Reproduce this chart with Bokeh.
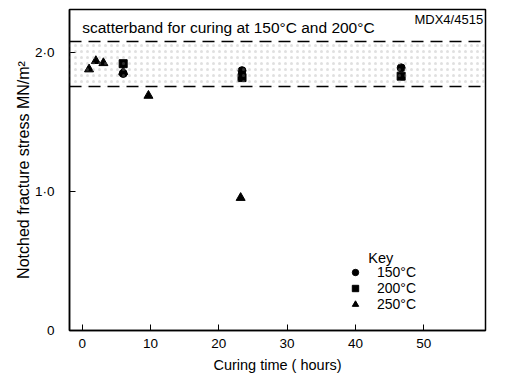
from bokeh.plotting import figure
from bokeh.models import (Range1d, FixedTicker, Label, Span, BoxAnnotation,
                          Legend, LegendItem)
from bokeh.embed import file_html
from bokeh.resources import INLINE

# ---- data ----
t150 = [6.0, 23.4, 46.7]
s150 = [1.85, 1.87, 1.89]
t200 = [6.0, 23.4, 46.7]
s200 = [1.92, 1.82, 1.83]
t250 = [1.0, 2.0, 3.1, 6.0, 9.7, 23.2]
s250 = [1.88, 1.94, 1.925, 1.86, 1.69, 0.955]
band = [1.755, 2.08]          # scatterband limits (150 and 200 degC)
x_ticks = [0, 10, 20, 30, 40, 50]
y_ticks = [0, 1, 2]
y_tick_labels = {0: "0", 1: "1·0", 2: "2·0"}
series_labels = ["150°C", "200°C", "250°C"]

FONT = "Liberation Sans"

p = figure(width=508, height=378, output_backend="svg", toolbar_location=None,
           x_range=Range1d(-1.86, 59.05), y_range=Range1d(0, 2.31),
           min_border_left=69, min_border_right=23, min_border_top=9,
           min_border_bottom=48)
p.background_fill_color = "white"
p.border_fill_color = "white"
p.outline_line_color = "black"
p.outline_line_width = 1.5
p.xgrid.visible = False
p.ygrid.visible = False

# axes
for ax in (p.xaxis[0], p.yaxis[0]):
    ax.major_tick_in = 6
    ax.major_tick_out = 0
    ax.minor_tick_in = 0
    ax.minor_tick_out = 0
    ax.axis_line_width = 1.5
    ax.major_tick_line_width = 1
    ax.major_label_text_font = FONT
    ax.major_label_text_font_size = "13.5px"
    ax.major_label_text_color = "black"
    ax.axis_label_text_font = FONT
    ax.axis_label_text_font_style = "normal"
    ax.axis_label_text_color = "black"

p.xaxis.ticker = FixedTicker(ticks=x_ticks)
p.yaxis.ticker = FixedTicker(ticks=y_ticks)
p.yaxis.major_label_overrides = y_tick_labels
p.xaxis.axis_label = "Curing time ( hours)"
p.yaxis.axis_label = "Notched fracture stress MN/m²"
p.xaxis.axis_label_text_font_size = "14.5px"
p.yaxis.axis_label_text_font_size = "16px"
p.xaxis.major_label_standoff = 8
p.xaxis.axis_label_standoff = 6
p.yaxis.major_label_standoff = 15
p.yaxis.axis_label_standoff = 0

# scatterband (stippled) and its dashed limits
p.add_layout(BoxAnnotation(bottom=band[0], top=band[1], fill_alpha=0,
                           line_alpha=0, hatch_pattern=".", hatch_scale=6,
                           hatch_color="#999999", hatch_alpha=0.3,
                           hatch_weight=1))
for b in band:
    p.add_layout(Span(location=b, dimension="width", line_color="black",
                      line_width=1.5, line_dash="12 7"))

# data
r150 = p.scatter(t150, s150, marker="circle", size=8, color="black")
r200 = p.scatter(t200, s200, marker="square", size=8, color="black")
r250 = p.scatter(t250, s250, marker="triangle", size=9, color="black")

# texts
p.add_layout(Label(x=0, y=2.18, text="scatterband for curing at 150°C and 200°C",
                   text_baseline="middle", text_font=FONT,
                   text_font_size="15.5px", text_color="black"))
p.add_layout(Label(x=58.7, y=2.235, text="MDX4/4515", text_align="right",
                   text_baseline="middle", text_font=FONT,
                   text_font_size="13px", text_color="black"))
p.add_layout(Label(x=41.9, y=0.522, text="Key", text_baseline="middle",
                   text_font=FONT, text_font_size="14.5px", text_color="black"))

legend = Legend(items=[LegendItem(label=series_labels[0], renderers=[r150]),
                       LegendItem(label=series_labels[1], renderers=[r200]),
                       LegendItem(label=series_labels[2], renderers=[r250])],
                location=(278, 18), orientation="vertical",
                glyph_width=16, glyph_height=16, label_height=16,
                label_standoff=14, spacing=0, padding=0, margin=0,
                border_line_alpha=0, background_fill_alpha=0,
                label_text_font=FONT, label_text_font_size="14px",
                label_text_color="black")
p.add_layout(legend)

open("out.html", "w").write(file_html(p, INLINE))
